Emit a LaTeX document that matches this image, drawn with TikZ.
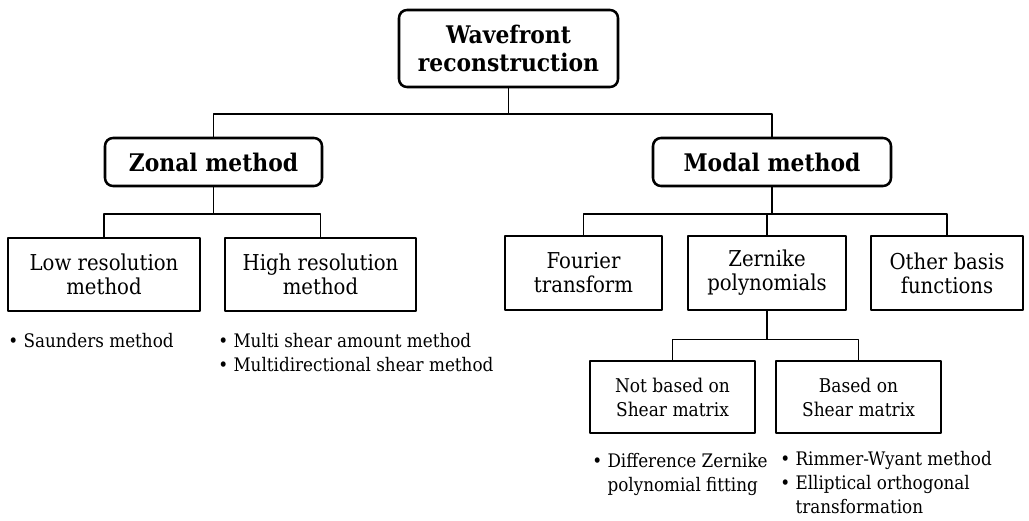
\documentclass[tikz,border=0pt]{standalone}
\usepackage{fontspec}
\setmainfont{DejaVu Serif}[FakeStretch=0.9]
\usetikzlibrary{positioning}

\begin{document}
\begin{tikzpicture}[x=0.75pt, y=-0.75pt, line join=round,
    head/.style={draw, line width=1.9pt, rounded corners=6pt, align=center, inner sep=0pt,
      font=\bfseries\fontsize{18.2}{21}\selectfont},
    leaf/.style={draw, line width=1.3pt, align=center, inner sep=0pt,
      font=\fontsize{16.4}{18}\selectfont},
    subleaf/.style={leaf, font=\fontsize{14.2}{18}\selectfont},
    note/.style={anchor=base west, align=left, inner sep=0pt,
      font=\fontsize{14}{18}\selectfont},
    link/.style={line width=1.2pt}]
    \useasboundingbox (0,0) rectangle (1029,521);

    % Корінь і дві гілки
    \node[head, minimum width=164.25pt, minimum height=57.75pt] (wf) at (508.5,48.5) {Wavefront\\reconstruction};
    \node[head, minimum width=162.75pt, minimum height=36pt] (zonal) at (213.5,162) {Zonal method};
    \node[head, minimum width=178.5pt, minimum height=36pt] (modal) at (772,162) {Modal method};

    % Зональний метод
    \node[leaf, minimum width=144pt, minimum height=54.75pt] (low) at (104,274.5) {Low resolution\\method};
    \node[leaf, minimum width=143.25pt, minimum height=54.75pt] (high) at (320.5,274.5) {High resolution\\method};

    % Модальний метод
    \node[leaf, minimum width=117.75pt, minimum height=55.5pt] (fourier) at (583.5,273) {Fourier\\transform};
    \node[leaf, minimum width=118.5pt, minimum height=55.5pt] (zern) at (767,273) {Zernike\\polynomials};
    \node[leaf, minimum width=114pt, minimum height=55.5pt] (other) at (947,273) {Other basis\\functions};
    \node[subleaf, minimum width=123.75pt, minimum height=54pt] (noshear) at (672.5,397) {Not based on\\Shear matrix};
    \node[subleaf, minimum width=123.75pt, minimum height=54pt] (shear) at (858.5,397) {Based on\\Shear matrix};

    % З'єднання
    \draw[link] (wf.south) -- ++(0,26) -| (zonal.north);
    \draw[link] (wf.south) -- ++(0,26) -| (modal.north);
    \draw[link] (zonal.south) -- ++(0,27) -| (low.north);
    \draw[link] (zonal.south) -- ++(0,27) -| (high.north);
    \draw[link] (modal.south) -- ++(0,27) -| (fourier.north);
    \draw[link] (modal.south) -- ++(0,27) -| (zern.north);
    \draw[link] (modal.south) -- ++(0,27) -| (other.north);
    \draw[link] (zern.south) -- ++(0,28.5) -| (noshear.north);
    \draw[link] (zern.south) -- ++(0,28.5) -| (shear.north);

    % Списки методів (base = остання строка)
    \node[note] (lownote) at (8,347) {\textbullet\ Saunders method};
    \node[note] (highnote) at (218,371) {\textbullet\ Multi shear amount method\\\textbullet\ Multidirectional shear method};
    \node[note] (noshearnote) at (592,491) {\textbullet\ Difference Zernike\\\phantom{\textbullet\ }polynomial fitting};
    \node[note] (shearnote) at (780,513) {\textbullet\ Rimmer-Wyant method\\\textbullet\ Elliptical orthogonal\\\phantom{\textbullet\ }transformation};
\end{tikzpicture}
\end{document}
